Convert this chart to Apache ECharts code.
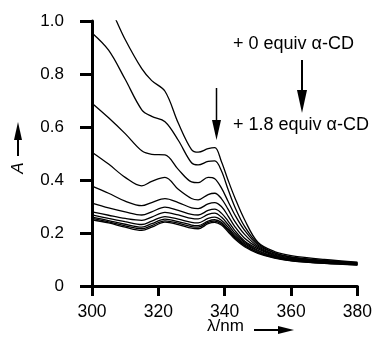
<!DOCTYPE html>
<html>
<head>
<meta charset="utf-8">
<script src="https://cdn.jsdelivr.net/npm/echarts@6/dist/echarts.min.js"></script>
<style>
html,body{margin:0;padding:0;background:#fff;}
#chart{width:375px;height:341px;}
</style>
</head>
<body>
<div id="chart"></div>
<script>
var wavelengths = [300,305,310,315,318,322,326,330,332,335,337,339,341,343,346,350,355,360,370,380];
var eq0   = [1.15,1.06,0.93,0.82,0.775,0.735,0.615,0.515,0.505,0.518,0.522,0.47,0.40,0.335,0.25,0.165,0.13,0.115,0.10,0.09];
var eqB   = [0.955,0.89,0.78,0.665,0.64,0.62,0.55,0.465,0.457,0.47,0.472,0.435,0.365,0.30,0.225,0.16,0.125,0.11,0.097,0.088];
var eqC   = [0.69,0.635,0.575,0.51,0.497,0.495,0.44,0.393,0.39,0.41,0.405,0.37,0.32,0.27,0.21,0.155,0.125,0.108,0.095,0.087];
var eqD   = [0.505,0.46,0.41,0.378,0.395,0.41,0.365,0.33,0.325,0.345,0.35,0.33,0.29,0.245,0.195,0.15,0.12,0.105,0.093,0.086];
var eqE   = [0.377,0.35,0.32,0.303,0.315,0.33,0.315,0.295,0.292,0.31,0.315,0.30,0.265,0.225,0.18,0.145,0.117,0.103,0.092,0.085];
var eqF   = [0.313,0.295,0.28,0.268,0.28,0.298,0.285,0.27,0.268,0.285,0.29,0.275,0.245,0.21,0.17,0.14,0.115,0.10,0.09,0.084];
var eqG   = [0.28,0.267,0.255,0.248,0.26,0.278,0.268,0.255,0.253,0.27,0.275,0.26,0.232,0.20,0.165,0.135,0.112,0.099,0.089,0.083];
var eqH   = [0.268,0.255,0.243,0.232,0.245,0.262,0.252,0.24,0.238,0.255,0.26,0.248,0.222,0.192,0.16,0.132,0.11,0.098,0.088,0.082];
var eqI   = [0.26,0.247,0.233,0.222,0.235,0.252,0.243,0.23,0.228,0.245,0.25,0.24,0.215,0.187,0.155,0.128,0.108,0.097,0.087,0.081];
var eqJ   = [0.255,0.242,0.227,0.216,0.228,0.246,0.237,0.224,0.222,0.24,0.245,0.235,0.21,0.183,0.152,0.126,0.107,0.096,0.086,0.08];
var eq18  = [0.25,0.238,0.222,0.21,0.222,0.241,0.232,0.218,0.216,0.235,0.24,0.23,0.205,0.178,0.148,0.123,0.105,0.095,0.085,0.079];
var allSpectra = [eq0,eqB,eqC,eqD,eqE,eqF,eqG,eqH,eqI,eqJ,eq18];
var xTicks = [300,320,340,360,380];
var yTicks = [0,0.2,0.4,0.6,0.8,1.0];

var FONT = 'Liberation Sans, Arial, sans-serif';
var chart = echarts.init(document.getElementById('chart'), null, {renderer:'canvas'});

var series = allSpectra.map(function(arr){
  return {
    type:'line',
    data: wavelengths.map(function(w,i){return [w,arr[i]];}),
    showSymbol:false,
    smooth:0.35,
    clip:true,
    lineStyle:{color:'#000',width:1.3},
    animation:false
  };
});

chart.setOption({
  animation:false,
  backgroundColor:'#fff',
  grid:{left:92,right:14,top:21,bottom:55},
  xAxis:{
    type:'value',min:300,max:380,interval:20,
    axisLine:{lineStyle:{color:'#000',width:3}},
    axisTick:{inside:false,length:10,lineStyle:{color:'#000',width:3}},
    axisLabel:{color:'#000',fontSize:17.5,fontFamily:FONT,margin:17},
    splitLine:{show:false}
  },
  yAxis:{
    type:'value',min:0,max:1,interval:0.2,
    axisLine:{show:true,lineStyle:{color:'#000',width:3}},
    axisTick:{show:true,inside:false,length:12,lineStyle:{color:'#000',width:3}},
    axisLabel:{color:'#000',fontSize:17,fontFamily:FONT,margin:28,
      formatter:function(v){return v===0?'0':v.toFixed(1);}},
    splitLine:{show:false}
  },
  series: series,
  graphic:[
    {type:'text',left:233,top:35,style:{text:'+ 0 equiv \u03b1-CD',font:'18px '+FONT,fill:'#000'}},
    {type:'text',left:233,top:116,style:{text:'+ 1.8 equiv \u03b1-CD',font:'18px '+FONT,fill:'#000'}},
    {type:'line',shape:{x1:302,y1:60,x2:302,y2:95},style:{stroke:'#000',lineWidth:2}},
    {type:'polygon',shape:{points:[[297,90],[307,90],[302,113]]},style:{fill:'#000'}},
    {type:'line',shape:{x1:216.5,y1:88,x2:216.5,y2:124},style:{stroke:'#000',lineWidth:1.5}},
    {type:'polygon',shape:{points:[[212,120],[221,120],[216.5,140]]},style:{fill:'#000'}},
    {type:'text',x:18,y:168,rotation:Math.PI/2,style:{text:'A',font:'italic 17px '+FONT,fill:'#000',align:'center',verticalAlign:'middle'}},
    {type:'line',shape:{x1:18,y1:156,x2:18,y2:135},style:{stroke:'#000',lineWidth:2}},
    {type:'polygon',shape:{points:[[14,140],[22,140],[18,122]]},style:{fill:'#000'}},
    {type:'text',left:207,top:318,style:{text:'\u03bb/nm',font:'17px '+FONT,fill:'#000'}},
    {type:'line',shape:{x1:254,y1:330,x2:282,y2:330},style:{stroke:'#000',lineWidth:2}},
    {type:'polygon',shape:{points:[[278,326],[278,334],[294,330]]},style:{fill:'#000'}}
  ]
});
</script>
</body>
</html>
